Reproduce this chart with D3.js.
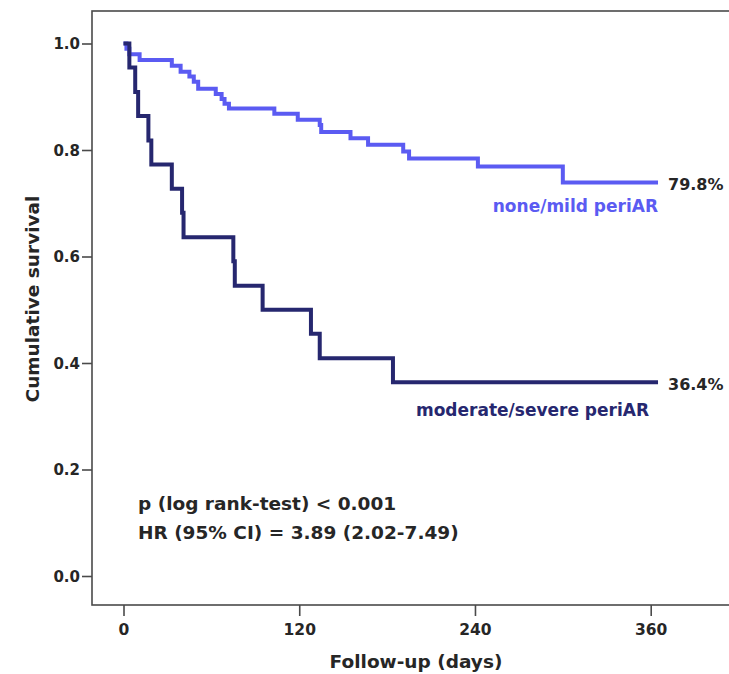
<!DOCTYPE html>
<html>
<head>
<meta charset="utf-8">
<script src="https://cdn.jsdelivr.net/npm/d3@7/dist/d3.min.js"></script>
<style>
  html, body { margin: 0; padding: 0; background: #fff; }
  svg { display: block; }
  text { font-family: "DejaVu Sans", Verdana, sans-serif; font-weight: bold; }
</style>
</head>
<body>
<svg id="chart" width="729" height="674"></svg>
<script>
// Kaplan-Meier estimates by peri-aortic regurgitation grade
const mildDays    = [0, 2, 4, 11, 33, 39, 45, 48, 51, 63, 67, 69, 72, 103, 119, 134, 135, 155, 167, 191, 195, 242, 300, 365];
const mildSurv    = [1, 0.990, 0.980, 0.969, 0.958, 0.947, 0.938, 0.928, 0.915, 0.905, 0.896, 0.887, 0.878, 0.868, 0.857, 0.847, 0.834, 0.822, 0.810, 0.797, 0.784, 0.769, 0.739, 0.739];
const severeDays  = [0, 4, 8, 10, 17, 19, 33, 40, 41, 75, 76, 95, 128, 134, 184, 365];
const severeSurv  = [1, 0.955, 0.909, 0.864, 0.818, 0.773, 0.727, 0.682, 0.636, 0.591, 0.545, 0.5, 0.455, 0.409, 0.364, 0.364];

const seriesNames = ["none/mild periAR", "moderate/severe periAR"];
const endLabels   = ["79.8%", "36.4%"];
const xTicks = [0, 120, 240, 360];
const yTicks = [0, 0.2, 0.4, 0.6, 0.8, 1.0];
const statLines = ["p (log rank-test) < 0.001", "HR (95% CI) = 3.89 (2.02-7.49)"];

const colors = ["#5b5bf2", "#26276f"];
const ink = "#262626";
const axisGrey = "#4a4a4a";

const svg = d3.select("#chart");

const frame = { left: 92, top: 11, bottom: 605, right: 760 };
const x = d3.scaleLinear().domain([0, 360]).range([123.5, 650.7]);
const y = d3.scaleLinear().domain([0, 1]).range([576, 43.5]);

// plot frame (runs past the right edge of the page)
svg.append("rect")
  .attr("x", frame.left).attr("y", frame.top)
  .attr("width", frame.right - frame.left).attr("height", frame.bottom - frame.top)
  .attr("fill", "none").attr("stroke", axisGrey).attr("stroke-width", 1.6);

// y axis
const yAxis = d3.axisLeft(y).tickValues(yTicks).tickFormat(d3.format(".1f")).tickSize(10).tickPadding(2);
const gy = svg.append("g").attr("transform", `translate(${frame.left},0)`).call(yAxis);
gy.select(".domain").remove();
gy.selectAll(".tick line").attr("stroke", axisGrey).attr("stroke-width", 1.6);
gy.selectAll(".tick text").attr("fill", ink).style("font-size", "15px").attr("dy", "0.36em");

// x axis
const xAxis = d3.axisBottom(x).tickValues(xTicks).tickFormat(d3.format("d")).tickSize(11).tickPadding(8);
const gx = svg.append("g").attr("transform", `translate(0,${frame.bottom})`).call(xAxis);
gx.select(".domain").remove();
gx.selectAll(".tick line").attr("stroke", axisGrey).attr("stroke-width", 1.6);
gx.selectAll(".tick text").attr("fill", ink).style("font-size", "15.5px");

// axis titles
svg.append("text")
  .attr("x", 416).attr("y", 668)
  .attr("text-anchor", "middle").attr("fill", ink)
  .style("font-size", "18.5px")
  .text("Follow-up (days)");

svg.append("text")
  .attr("transform", "translate(39,299) rotate(-90)")
  .attr("text-anchor", "middle").attr("fill", ink)
  .style("font-size", "18.5px")
  .text("Cumulative survival");

// survival curves
const line = d3.line().x(d => x(d[0])).y(d => y(d[1])).curve(d3.curveStepAfter);
const curves = [d3.zip(mildDays, mildSurv), d3.zip(severeDays, severeSurv)];

curves.forEach((pts, i) => {
  svg.append("path")
    .datum(pts)
    .attr("d", line)
    .attr("fill", "none")
    .attr("stroke", colors[i])
    .attr("stroke-width", 4)
    .attr("stroke-linejoin", "miter");
});

// end-of-follow-up percentages and group names
curves.forEach((pts, i) => {
  const last = pts[pts.length - 1];
  svg.append("text")
    .attr("x", x(last[0]) + 10).attr("y", y(last[1]) + 2)
    .attr("dy", "0.36em").attr("fill", ink)
    .style("font-size", "16px")
    .text(endLabels[i]);
});

svg.append("text")
  .attr("x", x(mildDays[mildDays.length - 1])).attr("y", y(mildSurv[mildSurv.length - 1]) + 23)
  .attr("dy", "0.36em").attr("text-anchor", "end")
  .attr("fill", colors[0]).style("font-size", "17px")
  .text(seriesNames[0]);

svg.append("text")
  .attr("x", x(severeDays[severeDays.length - 1]) - 9).attr("y", y(severeSurv[severeSurv.length - 1]) + 28)
  .attr("dy", "0.36em").attr("text-anchor", "end")
  .attr("fill", colors[1]).style("font-size", "17px")
  .text(seriesNames[1]);

// test statistics
statLines.forEach((t, i) => {
  svg.append("text")
    .attr("x", 138).attr("y", 503 + i * 29)
    .attr("dy", "0.36em").attr("fill", ink)
    .style("font-size", "18.5px")
    .text(t);
});
</script>
</body>
</html>
